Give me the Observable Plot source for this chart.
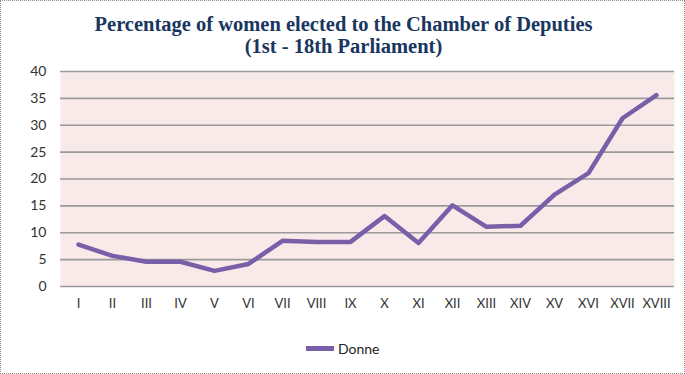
<!DOCTYPE html>
<html>
<head>
<meta charset="utf-8">
<script src="https://cdn.jsdelivr.net/npm/d3@7"></script>
<script src="https://cdn.jsdelivr.net/npm/@observablehq/plot@0.6"></script>
<style>
  html, body { margin: 0; padding: 0; background: #fff; }
  #chart { position: relative; width: 685px; height: 374px; box-sizing: border-box; border: 1px dotted #8a8a8a; overflow: hidden; }
  #title { position: absolute; left: 0; top: 12px; width: 685px; text-align: center;
           font-family: "Liberation Serif", serif; font-weight: bold; font-size: 20.5px; line-height: 22px; color: #1a365f; }
  #legend { position: absolute; left: 305px; top: 339px; font-family: Lato, sans-serif; font-size: 14px; color: #222; display: flex; align-items: center; }
  #legend .sw { width: 28px; height: 5px; background: #7a5fa8; margin-right: 4px; }
  #plot { position: absolute; left: 0; top: 0; }
</style>
</head>
<body>
<div id="chart">
  <div id="plot"></div>
  <div id="title">Percentage of women elected to the Chamber of Deputies<br>(1st - 18th Parliament)</div>
  <div id="legend"><span class="sw"></span><span>Donne</span></div>
</div>
<script>
const legislatures = ["I","II","III","IV","V","VI","VII","VIII","IX","X","XI","XII","XIII","XIV","XV","XVI","XVII","XVIII"];
const donne = [7.8, 5.7, 4.6, 4.6, 2.9, 4.2, 8.5, 8.3, 8.3, 13.1, 8.1, 15.1, 11.1, 11.3, 17.1, 21.1, 31.3, 35.6];
const yTicks = [0, 5, 10, 15, 20, 25, 30, 35, 40];

const data = legislatures.map((l, i) => ({leg: l, value: donne[i]}));

const chart = Plot.plot({
  width: 683,
  height: 372,
  marginTop: 70,
  marginBottom: 87,
  marginLeft: 59,
  marginRight: 10,
  style: {fontFamily: "Lato, sans-serif", fontSize: "14px", color: "#333", background: "transparent"},
  x: {type: "point", domain: legislatures, padding: 0.5, label: null},
  y: {domain: [0, 40], ticks: yTicks, label: null},
  marks: [
    Plot.frame({fill: "url(#dots)", stroke: null}),
    Plot.ruleY(yTicks, {stroke: "#9a9a9a", strokeWidth: 1.6}),
    Plot.axisY({ticks: yTicks, tickSize: 0, tickPadding: 14, fontSize: 14, fill: "#333", label: null}),
    Plot.axisX({tickSize: 0, tickPadding: 12, fontSize: 13, fill: "#333", label: null}),
    Plot.line(data, {x: "leg", y: "value", stroke: "#7a5fa8", strokeWidth: 4.5, strokeLinejoin: "round", strokeLinecap: "round"})
  ]
});

// dotted pink pattern for the plot area
const ns = "http://www.w3.org/2000/svg";
const defs = document.createElementNS(ns, "defs");
defs.innerHTML = '<pattern id="dots" width="2" height="2" patternUnits="userSpaceOnUse">' +
  '<rect width="2" height="2" fill="#ffffff"/>' +
  '<rect x="0" y="0" width="1" height="1" fill="#f2cfcf"/>' +
  '<rect x="1" y="1" width="1" height="1" fill="#f5dada"/></pattern>';
chart.insertBefore(defs, chart.firstChild);
document.getElementById("plot").appendChild(chart);
</script>
</body>
</html>
